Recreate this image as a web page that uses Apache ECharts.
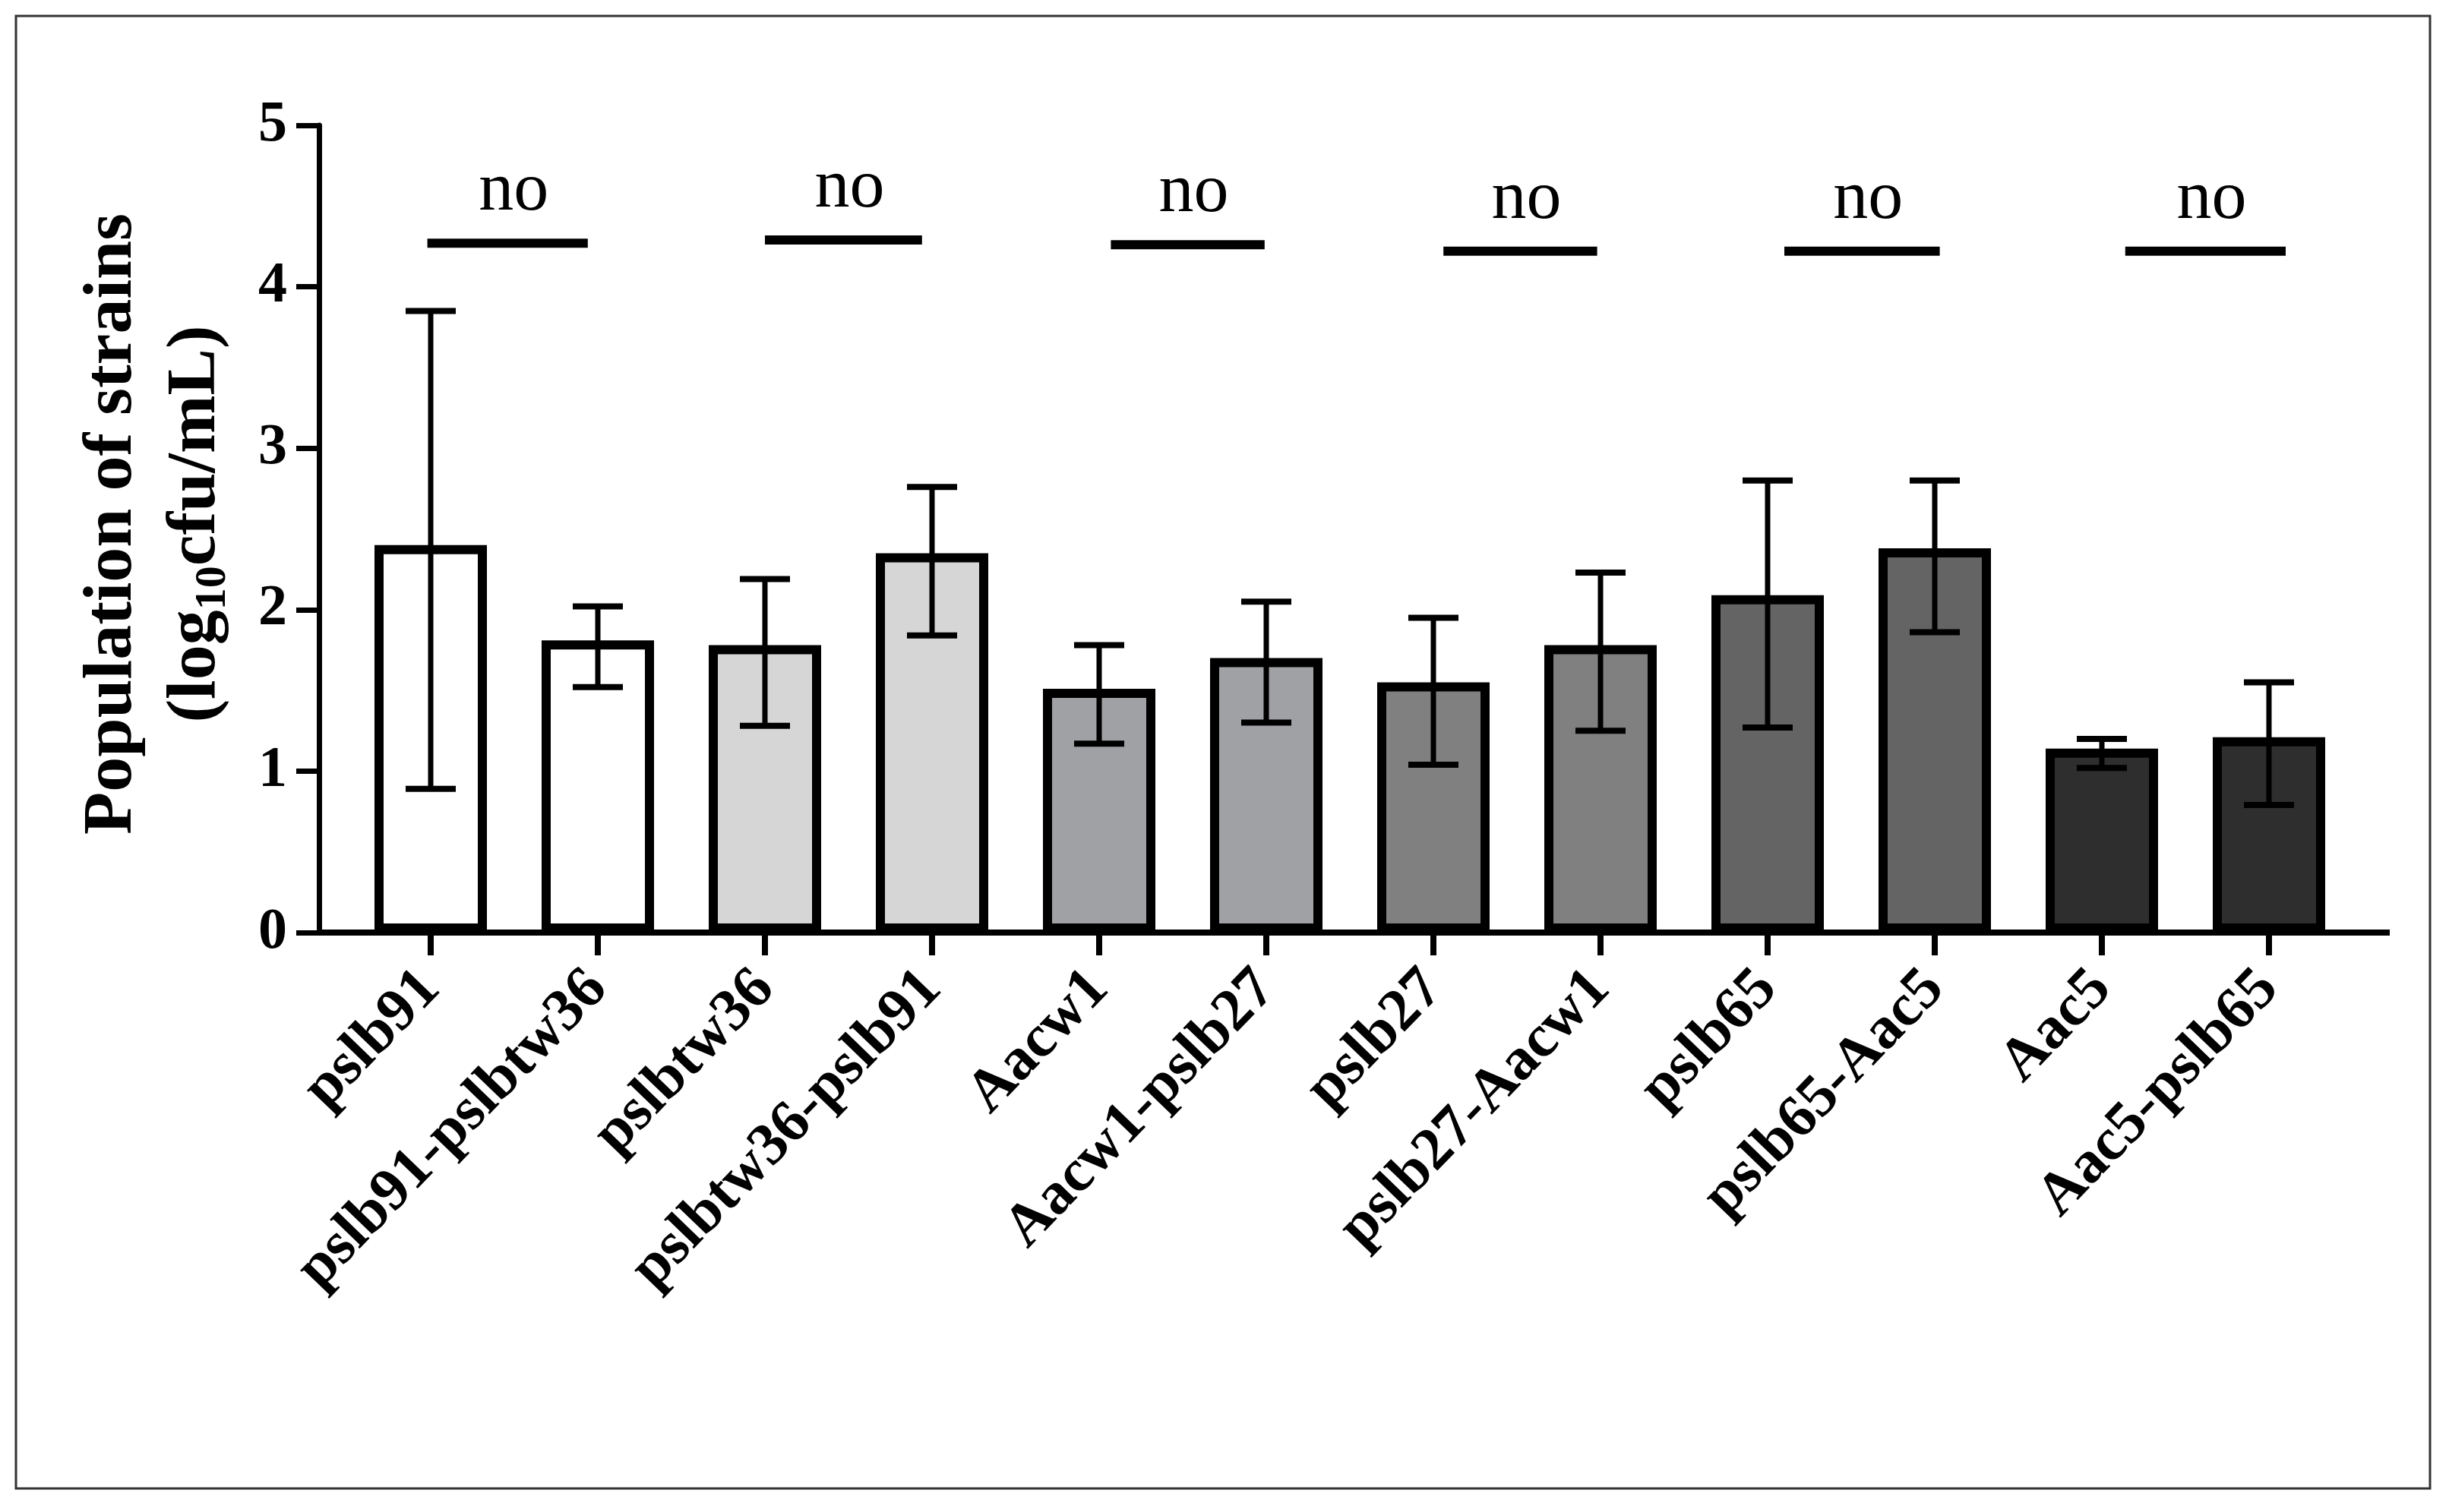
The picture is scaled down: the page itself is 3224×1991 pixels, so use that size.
<!DOCTYPE html>
<html>
<head>
<meta charset="utf-8">
<script src="https://cdn.jsdelivr.net/npm/echarts@6/dist/echarts.min.js"></script>
<style>
html,body{margin:0;padding:0;background:#fff;}
#chart{width:3224px;height:1991px;}
</style>
</head>
<body>
<div id="chart"></div>
<script>
// ---- data ----
const categories = ['pslb91','pslb91-pslbtw36','pslbtw36','pslbtw36-pslb91','Aacw1','Aacw1-pslb27','pslb27','pslb27-Aacw1','pslb65','pslb65-Aac5','Aac5','Aac5-pslb65'];
const means      = [2.40, 1.81, 1.78, 2.35, 1.51, 1.70, 1.55, 1.78, 2.09, 2.38, 1.14, 1.21];
const errUpper   = [3.85, 2.02, 2.19, 2.76, 1.78, 2.05, 1.95, 2.23, 2.80, 2.80, 1.20, 1.55];
const errLower   = [0.89, 1.52, 1.28, 1.84, 1.17, 1.30, 1.04, 1.25, 1.27, 1.86, 1.02, 0.79];
const yTicks     = [0, 1, 2, 3, 4, 5];
const sigStart   = [-0.02, 2.00, 4.07, 6.06, 8.10, 10.14];
const sigEnd     = [0.94, 2.94, 4.99, 6.98, 9.03, 11.10];
const sigY       = [4.27, 4.29, 4.26, 4.22, 4.22, 4.22];
const sigText    = ['no', 'no', 'no', 'no', 'no', 'no'];

// ---- styles ----
const barColors = ['#ffffff','#ffffff','#d6d6d6','#d6d6d6','#a0a1a4','#a0a1a4','#808080','#808080','#646464','#646464','#2e2e2e','#2e2e2e'];
const SERIF = "'Liberation Serif','Times New Roman',serif";

const chart = echarts.init(document.getElementById('chart'), null, {renderer:'canvas'});

const option = {
  backgroundColor: '#ffffff',
  animation: false,
  grid: [
    {left: 420, right: 78, top: 165, bottom: 763},
    {left: 457, right: 127, top: 165, bottom: 763}
  ],
  xAxis: [
    {gridIndex: 0, type: 'value', min: 0, max: 1, show: true,
     axisLine: {show: true, onZero: false, lineStyle: {color: '#000', width: 8, cap: 'butt'}},
     axisTick: {show: false}, axisLabel: {show: false}, splitLine: {show: false}},
    {gridIndex: 1, type: 'category', data: categories, boundaryGap: true,
     axisLine: {show: false},
     axisTick: {show: true, alignWithLabel: true, inside: false, length: 30, lineStyle: {color: '#000', width: 8}},
     axisLabel: {show: true, interval: 0, rotate: 46, margin: 62, color: '#000',
       fontFamily: SERIF, fontWeight: 'bold', fontSize: 79}},
    {gridIndex: 1, type: 'value', min: -0.5, max: 11.5, show: false}
  ],
  yAxis: [
    {gridIndex: 0, type: 'value', min: 0, max: 5, interval: 1,
     axisLine: {show: true, lineStyle: {color: '#000', width: 7}},
     axisTick: {show: true, length: 30, lineStyle: {color: '#000', width: 7}},
     axisLabel: {show: true, margin: 42, color: '#000', fontFamily: SERIF, fontWeight: 'bold', fontSize: 76,
       formatter: function(v){ return yTicks.indexOf(v) >= 0 ? String(v) : ''; }},
     splitLine: {show: false}},
    {gridIndex: 1, type: 'value', min: 0, max: 5, interval: 1, show: false, splitLine: {show: false}}
  ],
  graphic: [
    {type: 'rect', z: 0, shape: {x: 21, y: 21, width: 3178, height: 1939},
     style: {fill: 'none', stroke: '#333', lineWidth: 3}},
    {type: 'text', x: 203, y: 690, rotation: Math.PI / 2, z: 10,
     style: {
       text: '{a|Population of strains}\n{a|(log}{s|10}{a|cfu/mL)}',
       align: 'center', verticalAlign: 'middle', fill: '#000',
       rich: {
         a: {fontFamily: SERIF, fontWeight: 'bold', fontSize: 92, lineHeight: 110, fill: '#000'},
         s: {fontFamily: SERIF, fontWeight: 'bold', fontSize: 58, lineHeight: 110, padding: [46, 0, 0, 0], fill: '#000'}
       }
     }}
  ],
  series: [
    {type: 'bar', xAxisIndex: 1, yAxisIndex: 1, barWidth: 148, z: 2,
     data: means.map((v, i) => ({value: v, itemStyle: {color: barColors[i], borderColor: '#000', borderWidth: 12}}))},
    {type: 'custom', xAxisIndex: 1, yAxisIndex: 1, z: 5,
     data: categories.map((c, i) => [i, errLower[i], errUpper[i]]),
     renderItem: function(params, api){
       const lo = api.coord([api.value(0), api.value(1)]);
       const hi = api.coord([api.value(0), api.value(2)]);
       const half = 33;
       const st = {stroke: '#000', lineWidth: 7};
       return {type: 'group', children: [
         {type: 'line', shape: {x1: lo[0], y1: lo[1], x2: hi[0], y2: hi[1]}, style: st},
         {type: 'line', shape: {x1: hi[0]-half, y1: hi[1], x2: hi[0]+half, y2: hi[1]}, style: {stroke:'#000', lineWidth: 8}},
         {type: 'line', shape: {x1: lo[0]-half, y1: lo[1], x2: lo[0]+half, y2: lo[1]}, style: {stroke:'#000', lineWidth: 8}}
       ]};
     }},
    {type: 'custom', xAxisIndex: 2, yAxisIndex: 1, z: 5,
     data: sigStart.map((s, i) => [s, sigEnd[i], sigY[i]]),
     renderItem: function(params, api){
       const a = api.coord([api.value(0), api.value(2)]);
       const b = api.coord([api.value(1), api.value(2)]);
       return {type: 'group', children: [
         {type: 'line', shape: {x1: a[0], y1: a[1], x2: b[0], y2: b[1]}, style: {stroke: '#000', lineWidth: 12}},
         {type: 'text', x: (a[0] + b[0]) / 2 + 8, y: a[1] - 22,
          style: {text: sigText[params.dataIndex], fill: '#000', font: 'normal 92px ' + SERIF,
                  align: 'center', verticalAlign: 'bottom'}}
       ]};
     }}
  ]
};
chart.setOption(option);
</script>
</body>
</html>
